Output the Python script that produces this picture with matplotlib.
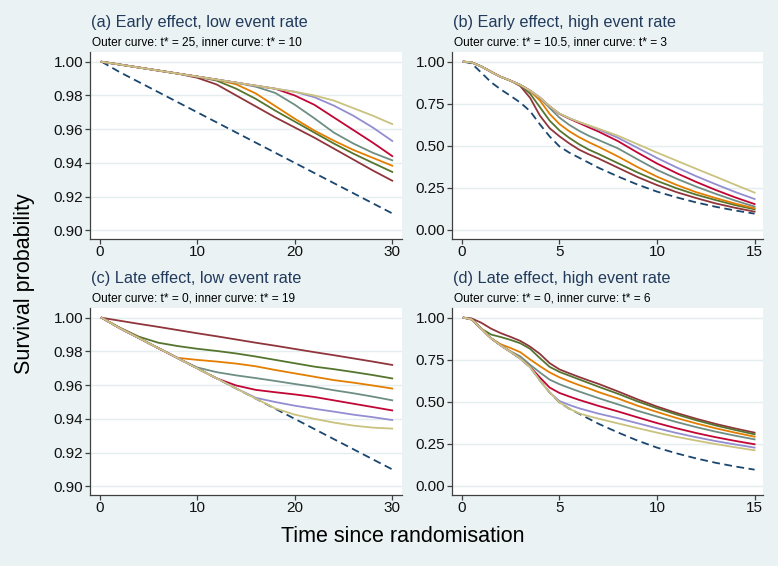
import matplotlib
matplotlib.use('Agg')
import matplotlib.pyplot as plt

plt.rcParams['font.family'] = ['Liberation Sans', 'DejaVu Sans']

# ---- data ----
# low event rate panels (a), (c)
t_low = [0.2, 2, 4, 6, 8, 10, 12, 14, 16, 18, 20, 22, 24, 26, 28, 30]
dashed_low = [1.000, 0.994, 0.988, 0.982, 0.976, 0.970, 0.964, 0.958,
              0.952, 0.946, 0.940, 0.934, 0.928, 0.922, 0.916, 0.910]

a_maroon = [1.000, 0.9984, 0.9966, 0.9948, 0.9930, 0.9905, 0.9865, 0.9800,
            0.9735, 0.9670, 0.9610, 0.9550, 0.9485, 0.9420, 0.9355, 0.9294]
a_green = [1.000, 0.9984, 0.9966, 0.9948, 0.9930, 0.9912, 0.9888, 0.9840,
           0.9780, 0.9710, 0.9645, 0.9580, 0.9515, 0.9455, 0.9400, 0.9346]
a_orange = [1.000, 0.9984, 0.9966, 0.9948, 0.9930, 0.9912, 0.9894, 0.9866,
            0.9812, 0.9737, 0.9662, 0.9592, 0.9532, 0.9477, 0.9430, 0.9383]
a_teal = [1.000, 0.9984, 0.9966, 0.9948, 0.9930, 0.9912, 0.9894, 0.9876,
          0.9852, 0.9815, 0.9745, 0.9665, 0.9580, 0.9515, 0.9460, 0.9415]
a_cran = [1.000, 0.9984, 0.9966, 0.9948, 0.9930, 0.9912, 0.9894, 0.9876,
          0.9858, 0.9840, 0.9800, 0.9745, 0.9670, 0.9595, 0.9520, 0.9440]
a_lav = [1.000, 0.9984, 0.9966, 0.9948, 0.9930, 0.9912, 0.9894, 0.9876,
         0.9858, 0.9840, 0.9822, 0.9790, 0.9740, 0.9680, 0.9610, 0.9530]
a_khaki = [1.000, 0.9984, 0.9966, 0.9948, 0.9930, 0.9912, 0.9894, 0.9876,
           0.9858, 0.9840, 0.9822, 0.9800, 0.9770, 0.9725, 0.9680, 0.9630]

c_maroon = [1.000, 0.9983, 0.9964, 0.9946, 0.9927, 0.9908, 0.9890, 0.9871,
            0.9852, 0.9834, 0.9815, 0.9796, 0.9778, 0.9759, 0.9740, 0.9720]
c_green = [1.000, 0.9943, 0.9888, 0.9852, 0.9832, 0.9816, 0.9803, 0.9788,
           0.9770, 0.9750, 0.9730, 0.9710, 0.9695, 0.9678, 0.9660, 0.9640]
c_orange = [1.000, 0.994, 0.988, 0.982, 0.9762, 0.9750, 0.9740, 0.9728,
            0.9712, 0.9690, 0.9670, 0.9650, 0.9630, 0.9615, 0.9598, 0.9580]
c_teal = [1.000, 0.994, 0.988, 0.982, 0.976, 0.9705, 0.9677, 0.9658,
          0.9642, 0.9625, 0.9607, 0.9590, 0.9570, 0.9552, 0.9532, 0.9510]
c_cran = [1.000, 0.994, 0.988, 0.982, 0.976, 0.970, 0.964, 0.9598,
          0.9572, 0.9558, 0.9545, 0.9530, 0.9510, 0.9490, 0.9470, 0.9450]
c_lav = [1.000, 0.994, 0.988, 0.982, 0.976, 0.970, 0.964, 0.958,
         0.9525, 0.9500, 0.9478, 0.9460, 0.9443, 0.9425, 0.9410, 0.9393]
c_khaki = [1.000, 0.994, 0.988, 0.982, 0.976, 0.970, 0.964, 0.958,
           0.952, 0.9462, 0.9425, 0.9400, 0.9378, 0.9360, 0.9348, 0.9342]

# high event rate panels (b), (d)
t_high = [0.1, 0.5, 1, 1.5, 2, 2.5, 3, 3.5, 4, 4.5, 5, 5.5, 6, 6.5, 7,
          8, 9, 10, 11, 12, 13, 14, 15]
dashed_high = [1.0, 0.99, 0.935, 0.878, 0.835, 0.797, 0.757, 0.706, 0.628,
               0.556, 0.497, 0.46, 0.43, 0.40, 0.37, 0.318, 0.27, 0.228,
               0.194, 0.164, 0.138, 0.116, 0.097]

b_maroon = [1.0, 0.996, 0.972, 0.94, 0.91, 0.887, 0.855, 0.785, 0.68, 0.605,
            0.557, 0.515, 0.478, 0.45, 0.425, 0.37, 0.315, 0.267, 0.225,
            0.19, 0.158, 0.132, 0.109]
b_green = [1.0, 0.996, 0.972, 0.94, 0.91, 0.887, 0.86, 0.81, 0.73, 0.65,
           0.592, 0.548, 0.51, 0.478, 0.452, 0.397, 0.342, 0.292, 0.248,
           0.21, 0.178, 0.148, 0.123]
b_orange = [1.0, 0.996, 0.972, 0.94, 0.91, 0.887, 0.862, 0.825, 0.77, 0.69,
            0.63, 0.587, 0.552, 0.522, 0.495, 0.437, 0.374, 0.317, 0.268,
            0.225, 0.19, 0.157, 0.129]
b_teal = [1.0, 0.996, 0.972, 0.94, 0.91, 0.887, 0.862, 0.827, 0.785, 0.725,
          0.668, 0.625, 0.59, 0.56, 0.535, 0.485, 0.42, 0.357, 0.305,
          0.258, 0.215, 0.175, 0.139]
b_cran = [1.0, 0.996, 0.972, 0.94, 0.91, 0.887, 0.862, 0.828, 0.787, 0.735,
          0.69, 0.662, 0.636, 0.61, 0.585, 0.528, 0.46, 0.395, 0.338,
          0.286, 0.238, 0.194, 0.154]
b_lav = [1.0, 0.996, 0.972, 0.94, 0.91, 0.887, 0.862, 0.828, 0.787, 0.735,
         0.692, 0.665, 0.642, 0.62, 0.598, 0.548, 0.488, 0.428, 0.372,
         0.32, 0.272, 0.226, 0.184]
b_khaki = [1.0, 0.996, 0.972, 0.94, 0.91, 0.887, 0.862, 0.828, 0.787, 0.735,
           0.692, 0.665, 0.642, 0.622, 0.602, 0.56, 0.51, 0.46, 0.412,
           0.364, 0.317, 0.269, 0.222]

d_maroon = [1.0, 0.996, 0.97, 0.935, 0.908, 0.886, 0.862, 0.828, 0.785, 0.73,
            0.693, 0.67, 0.648, 0.627, 0.607, 0.562, 0.515, 0.472, 0.434,
            0.4, 0.369, 0.342, 0.317]
d_green = [1.0, 0.99, 0.935, 0.9, 0.885, 0.868, 0.848, 0.815, 0.76, 0.708,
           0.678, 0.656, 0.634, 0.612, 0.59, 0.548, 0.503, 0.462, 0.425,
           0.391, 0.36, 0.333, 0.307]
d_orange = [1.0, 0.99, 0.935, 0.878, 0.842, 0.82, 0.795, 0.752, 0.712, 0.675,
            0.646, 0.622, 0.6, 0.58, 0.558, 0.52, 0.477, 0.44, 0.404,
            0.372, 0.343, 0.317, 0.293]
d_teal = [1.0, 0.99, 0.935, 0.878, 0.835, 0.8, 0.77, 0.72, 0.675, 0.632,
          0.605, 0.583, 0.562, 0.542, 0.522, 0.485, 0.447, 0.413, 0.38,
          0.35, 0.323, 0.299, 0.277]
d_cran = [1.0, 0.99, 0.935, 0.878, 0.835, 0.797, 0.757, 0.708, 0.645, 0.585,
          0.553, 0.532, 0.512, 0.494, 0.476, 0.443, 0.408, 0.374, 0.343,
          0.315, 0.29, 0.268, 0.248]
d_lav = [1.0, 0.99, 0.935, 0.878, 0.835, 0.797, 0.757, 0.706, 0.628, 0.556,
         0.505, 0.482, 0.462, 0.446, 0.43, 0.403, 0.373, 0.343, 0.315,
         0.29, 0.267, 0.247, 0.228]
d_khaki = [1.0, 0.99, 0.935, 0.878, 0.835, 0.797, 0.757, 0.706, 0.628, 0.556,
           0.497, 0.46, 0.432, 0.415, 0.4, 0.372, 0.344, 0.317, 0.292,
           0.27, 0.249, 0.23, 0.212]

titles = ['(a) Early effect, low event rate', '(b) Early effect, high event rate',
          '(c) Late effect, low event rate', '(d) Late effect, high event rate']
subtitles = ['Outer curve: t* = 25, inner curve: t* = 10',
             'Outer curve: t* = 10.5, inner curve: t* = 3',
             'Outer curve: t* = 0, inner curve: t* = 19',
             'Outer curve: t* = 0, inner curve: t* = 6']

# Stata s2color palette
NAVY = '#1a476f'
COLORS = ['#90353b', '#55752f', '#e37e00', '#6e8e84', '#c10534', '#938dd2', '#cac27e']
BG = '#eaf2f3'
GRID = '#e4edef'
AXC = '#404040'
TITLE_C = '#223a5c'

W, H = 778, 566
fig = plt.figure(figsize=(W / 100, H / 100), dpi=100)
fig.patch.set_facecolor(BG)


def px_axes(left, top, right, bottom):
    return fig.add_axes([left / W, 1 - bottom / H, (right - left) / W, (bottom - top) / H])


def draw_panel(ax, t, dashed, curves, xlim, ylim, xticks, yticks, yfmt):
    ax.set_facecolor('white')
    for y in yticks:
        ax.axhline(y, color=GRID, lw=1.0, zorder=0)
    ax.plot(t, dashed, color=NAVY, lw=1.3, ls=(0, (4.3, 2.5)))
    for vals, col in zip(curves, COLORS):
        ax.plot(t, vals, color=col, lw=1.3)
    ax.set_xlim(*xlim)
    ax.set_ylim(*ylim)
    ax.set_xticks(xticks)
    ax.set_yticks(yticks)
    ax.set_yticklabels([yfmt % y for y in yticks])
    for s in ['top', 'right']:
        ax.spines[s].set_visible(False)
    for s in ['left', 'bottom']:
        ax.spines[s].set_color(AXC)
        ax.spines[s].set_linewidth(0.9)
    ax.tick_params(direction='out', length=3.5, width=0.9, color=AXC,
                   labelsize=11, pad=1.5, labelcolor='#111111')
    ax.tick_params(axis='x', pad=0.5)


low_y = [0.90, 0.92, 0.94, 0.96, 0.98, 1.00]
high_y = [0.0, 0.25, 0.5, 0.75, 1.0]
low_lim = (0.8948, 1.0058)
high_lim = (-0.0535, 1.0576)

ax_a = px_axes(90, 52, 402, 239)
draw_panel(ax_a, t_low, dashed_low,
           [a_maroon, a_green, a_orange, a_teal, a_cran, a_lav, a_khaki],
           (-1.0, 31.0), low_lim, [0, 10, 20, 30], low_y, '%.2f')

ax_b = px_axes(452, 52, 763, 239)
draw_panel(ax_b, t_high, dashed_high,
           [b_maroon, b_green, b_orange, b_teal, b_cran, b_lav, b_khaki],
           (-0.5, 15.43), high_lim, [0, 5, 10, 15], high_y, '%.2f')

ax_c = px_axes(90, 308, 402, 495)
draw_panel(ax_c, t_low, dashed_low,
           [c_maroon, c_green, c_orange, c_teal, c_cran, c_lav, c_khaki],
           (-1.0, 31.0), low_lim, [0, 10, 20, 30], low_y, '%.2f')

ax_d = px_axes(452, 308, 763, 495)
draw_panel(ax_d, t_high, dashed_high,
           [d_maroon, d_green, d_orange, d_teal, d_cran, d_lav, d_khaki],
           (-0.5, 15.43), high_lim, [0, 5, 10, 15], high_y, '%.2f')

# titles and subtitles
title_pos = [(91, 22.5), (453, 22.5), (91, 278.5), (453, 278.5)]
for (x, y), ttl, sub in zip(title_pos, titles, subtitles):
    fig.text(x / W, 1 - y / H, ttl, ha='left', va='center', fontsize=11.7, color=TITLE_C)
    fig.text((x + 1) / W, 1 - (y + 20) / H, sub, ha='left', va='center', fontsize=8.6, color='black')

fig.text(25 / W, 1 - 284 / H, 'Survival probability', rotation=90,
         ha='center', va='center', fontsize=15.5, color='black')
fig.text(403 / W, 1 - 537 / H, 'Time since randomisation',
         ha='center', va='center', fontsize=15.5, color='black')

fig.savefig('out.png', dpi=100, facecolor=BG)
plt.close(fig)
